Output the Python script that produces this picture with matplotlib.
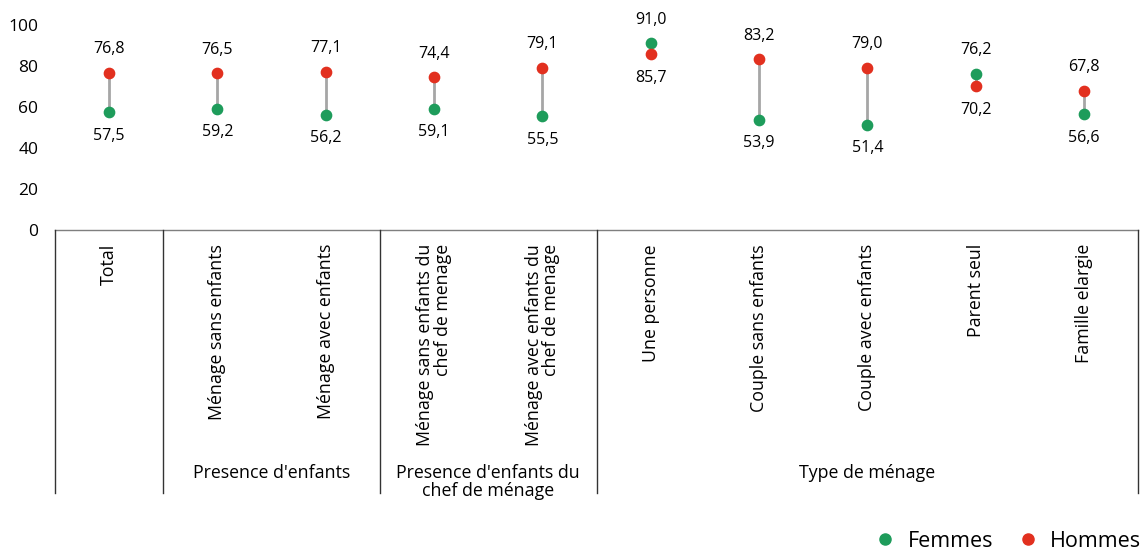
import matplotlib.pyplot as plt
from matplotlib.lines import Line2D

plt.rcParams['font.family'] = ['Open Sans', 'DejaVu Sans']

categories = ["Total",
              "Ménage sans enfants", "Ménage avec enfants",
              "Ménage sans enfants du\nchef de menage", "Ménage avec enfants du\nchef de menage",
              "Une personne", "Couple sans enfants", "Couple avec enfants",
              "Parent seul", "Famille elargie"]
femmes = [57.5, 59.2, 56.2, 59.1, 55.5, 91.0, 53.9, 51.4, 76.2, 56.6]
hommes = [76.8, 76.5, 77.1, 74.4, 79.1, 85.7, 83.2, 79.0, 70.2, 67.8]
groups = ["", "Presence d'enfants", "Presence d'enfants du\nchef de ménage", "Type de ménage"]
group_sizes = [1, 2, 2, 5]

green = "#1e9c5b"
red = "#e2301f"

fig = plt.figure(figsize=(11.47, 5.52), dpi=100)
W, H = 1147, 552
left, right, top, bottom = 55, 1138, 25, 230
ax = fig.add_axes([left / W, 1 - bottom / H, (right - left) / W, (bottom - top) / H])

n = len(categories)
x = list(range(n))
for i in x:
    ax.plot([i, i], [femmes[i], hommes[i]], color="#a6a6a6", lw=2, zorder=1)
ax.scatter(x, femmes, s=55, color=green, zorder=3, clip_on=False)
ax.scatter(x, hommes, s=55, color=red, zorder=3, clip_on=False)

def fmt(v):
    return f"{v:.1f}".replace(".", ",")

for i in x:
    f, h = femmes[i], hommes[i]
    hi, lo = (f, h) if f > h else (h, f)
    ax.annotate(fmt(hi), (i, hi), xytext=(0, 17), textcoords="offset points",
                ha="center", va="center", fontsize=11.5, annotation_clip=False)
    ax.annotate(fmt(lo), (i, lo), xytext=(0, -17), textcoords="offset points",
                ha="center", va="center", fontsize=11.5, annotation_clip=False)

ax.set_xlim(-0.5, n - 0.5)
ax.set_ylim(0, 100)
ax.set_yticks([0, 20, 40, 60, 80, 100])
ax.tick_params(axis="y", length=0, labelsize=12.5, pad=12)
ax.set_xticks([])
for s in ax.spines.values():
    s.set_visible(False)

# table under the axis
px = 1 / (bottom - top)
y_bot = -(493 - bottom) * px
line_kw = dict(transform=ax.transAxes, clip_on=False, lw=1)
ax.plot([0, 1], [0, 0], color="#7f7f7f", **line_kw)
bounds = [0]
for g in group_sizes:
    bounds.append(bounds[-1] + g)
for b in bounds:
    ax.plot([b / n, b / n], [0, y_bot], color="#333333", **line_kw)

for i, c in enumerate(categories):
    ax.text((i + 0.5) / n, -14 * px, c, transform=ax.transAxes, rotation=90,
            ha="center", va="top", fontsize=12.8, multialignment="right",
            linespacing=0.95)

for g, b0, b1 in zip(groups, bounds[:-1], bounds[1:]):
    if g:
        ax.text((b0 + b1) / 2 / n, -(464 - bottom) * px, g, transform=ax.transAxes,
                ha="center", va="top", fontsize=12.8, linespacing=1.0)

handles = [Line2D([], [], marker="o", ls="", color=green, markersize=8, label="Femmes"),
           Line2D([], [], marker="o", ls="", color=red, markersize=8, label="Hommes")]
fig.legend(handles=handles, loc="lower right", bbox_to_anchor=(1.012, -0.035), ncol=2,
           frameon=False, fontsize=15.5, handletextpad=0.45, columnspacing=1.0,
           handlelength=1.2)

fig.savefig("out.png", dpi=100)
